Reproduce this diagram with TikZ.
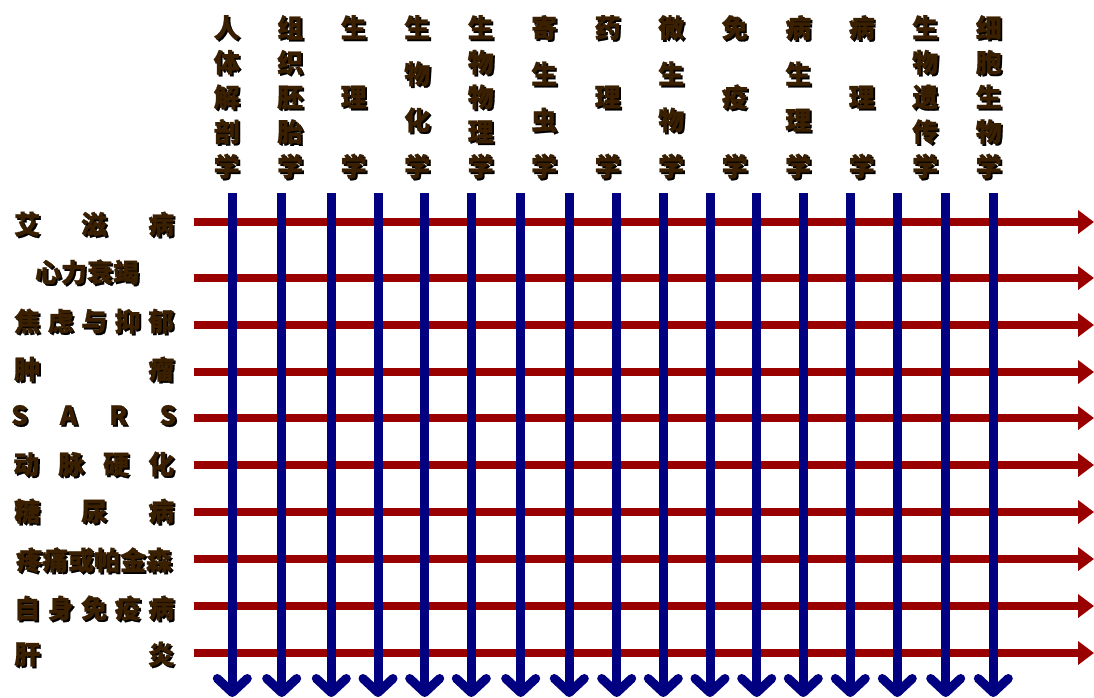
\documentclass[tikz,border=0pt]{standalone}
\usepackage{fontspec}
\newfontfamily\cjk{Noto Sans CJK SC}[BoldFeatures={FakeBold=1}]
\usetikzlibrary{arrows.meta}
\definecolor{redline}{HTML}{990000}
\definecolor{blueline}{HTML}{000080}
\definecolor{txtbrown}{HTML}{3A2000}
\newcommand\shd[1]{\rlap{\hspace{1.8pt}\raisebox{-1.8pt}{\color{black}#1}}#1}
\newcommand\vc[1]{\hbox to 27pt{\hss#1\hss}}
\tikzset{
  lbl/.style={inner sep=0pt, text=txtbrown, font=\cjk\bfseries\fontsize{26}{26}\selectfont},
  collbl/.style={lbl, anchor=north},
  rowlbl/.style={lbl, anchor=west},
  redarrow/.style={draw=redline, line width=8pt, -{Triangle[length=16pt,width=23pt]}},
  bluearrow/.style={draw=blueline, line width=9pt, -{Straight Barb[length=14pt,width=30pt,round]}},
}
\newcommand\colbox[1]{\shd{\vbox to 161pt{#1}}}
\newcommand\rowbox[2]{\shd{\makebox[#1]{#2}}}
\begin{document}
\begin{tikzpicture}[x=1pt,y=-1pt]
\useasboundingbox (0,0) rectangle (1094,697);
% red horizontal arrows
\foreach \y [count=\r] in {222,278,325,372,418,465,512,559,606,653} {
  \coordinate (rl\r) at (194,\y);
  \coordinate (rr\r) at (1094,\y);
  \draw[redarrow] (rl\r) -- (rr\r);
}
% blue vertical arrows
\foreach \x [count=\k] in {232.3,281.7,331.3,378,424.7,471.3,520.7,569.3,616.7,663.3,710,756.7,803.3,850.3,897.3,945.7,993.3} {
  \coordinate (bt\k) at (\x,193);
  \coordinate (bb\k) at (\x,697);
  \draw[bluearrow] (bt\k) -- (bb\k);
}
% column labels
\node[collbl] (c1) at (226.7,15) {\colbox{\vc{人}\vfill\vc{体}\vfill\vc{解}\vfill\vc{剖}\vfill\vc{学}}};
\node[collbl] (c2) at (290.2,15) {\colbox{\vc{组}\vfill\vc{织}\vfill\vc{胚}\vfill\vc{胎}\vfill\vc{学}}};
\node[collbl] (c3) at (353.7,15) {\colbox{\vc{生}\vfill\vc{理}\vfill\vc{学}}};
\node[collbl] (c4) at (417.2,15) {\colbox{\vc{生}\vfill\vc{物}\vfill\vc{化}\vfill\vc{学}}};
\node[collbl] (c5) at (480.7,15) {\colbox{\vc{生}\vfill\vc{物}\vfill\vc{物}\vfill\vc{理}\vfill\vc{学}}};
\node[collbl] (c6) at (544.2,15) {\colbox{\vc{寄}\vfill\vc{生}\vfill\vc{虫}\vfill\vc{学}}};
\node[collbl] (c7) at (607.7,15) {\colbox{\vc{药}\vfill\vc{理}\vfill\vc{学}}};
\node[collbl] (c8) at (671.2,15) {\colbox{\vc{微}\vfill\vc{生}\vfill\vc{物}\vfill\vc{学}}};
\node[collbl] (c9) at (734.7,15) {\colbox{\vc{免}\vfill\vc{疫}\vfill\vc{学}}};
\node[collbl] (c10) at (798.2,15) {\colbox{\vc{病}\vfill\vc{生}\vfill\vc{理}\vfill\vc{学}}};
\node[collbl] (c11) at (861.7,15) {\colbox{\vc{病}\vfill\vc{理}\vfill\vc{学}}};
\node[collbl] (c12) at (925.2,15) {\colbox{\vc{生}\vfill\vc{物}\vfill\vc{遗}\vfill\vc{传}\vfill\vc{学}}};
\node[collbl] (c13) at (988.7,15) {\colbox{\vc{细}\vfill\vc{胞}\vfill\vc{生}\vfill\vc{物}\vfill\vc{学}}};
% row labels
\node[rowlbl] (r1) at (14,225) {\rowbox{160pt}{艾\hfill 滋\hfill 病}};
\node[lbl] (r2) at (87,273) {\shd{心力衰竭}};
\node[rowlbl] (r3) at (14,322) {\rowbox{160pt}{焦\hfill 虑\hfill 与\hfill 抑\hfill 郁}};
\node[rowlbl] (r4) at (14,370) {\rowbox{160pt}{肿\hfill 瘤}};
\node[rowlbl] (r5) at (11,416) {\rowbox{165pt}{S\hfill A\hfill R\hfill S}};
\node[rowlbl] (r6) at (13,465) {\rowbox{161pt}{动\hfill 脉\hfill 硬\hfill 化}};
\node[rowlbl] (r7) at (14,512) {\rowbox{160pt}{糖\hfill 尿\hfill 病}};
\node[lbl] (r8) at (94,561) {\shd{疼痛或帕金森}};
\node[rowlbl] (r9) at (14,609) {\rowbox{160pt}{自\hfill 身\hfill 免\hfill 疫\hfill 病}};
\node[rowlbl] (r10) at (14,655) {\rowbox{160pt}{肝\hfill 炎}};
\end{tikzpicture}
\end{document}
